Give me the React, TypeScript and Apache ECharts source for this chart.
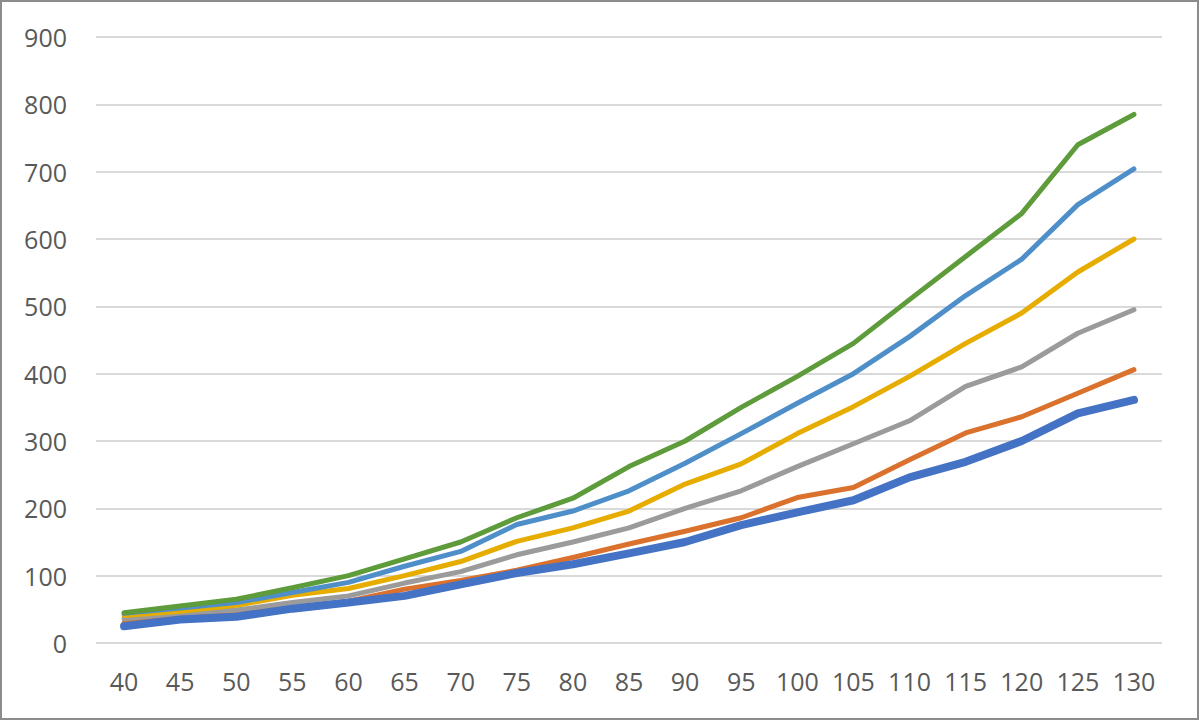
import React, { useEffect, useRef } from "react";
import * as echarts from "echarts";

const categories = ["40","45","50","55","60","65","70","75","80","85","90","95","100","105","110","115","120","125","130"];
const blueSeries = [25,35,39,51,60,70,87,104,117,133,150,175,194,212,246,269,300,341,361];
const orangeSeries = [30,38,43,53,62,80,93,108,127,147,166,186,216,231,272,312,336,371,406];
const graySeries = [36,44,49,60,70,89,106,131,150,171,200,226,262,296,330,381,410,460,495];
const yellowSeries = [41,47,56,71,81,100,121,151,171,196,236,266,311,351,396,445,490,551,600];
const lightBlueSeries = [44,52,60,75,90,114,136,176,196,226,267,311,356,400,455,516,570,651,704];
const greenSeries = [45,55,65,82,100,125,150,186,215,262,300,350,396,445,510,574,638,740,785];

const seriesDefs = [
  { name: "S2", data: orangeSeries, color: "#DA722E", width: 5, z: 2 },
  { name: "S3", data: graySeries, color: "#9B9B9B", width: 5, z: 3 },
  { name: "S4", data: yellowSeries, color: "#E6AD00", width: 5, z: 4 },
  { name: "S5", data: lightBlueSeries, color: "#4F8FC9", width: 5, z: 5 },
  { name: "S6", data: greenSeries, color: "#5E9B3B", width: 5, z: 6 },
  { name: "S1", data: blueSeries, color: "#4472C4", width: 8, z: 7 },
];

export default function App() {
  const ref = useRef<HTMLDivElement>(null);
  useEffect(() => {
    document.body.style.margin = "0";
    const chart = echarts.init(ref.current!, null, { renderer: "svg" });
    chart.setOption({
      animation: false,
      backgroundColor: "#ffffff",
      grid: { left: 96, right: 38, top: 37, bottom: 78 },
      xAxis: {
        type: "category",
        data: categories,
        boundaryGap: true,
        axisLine: { show: false },
        axisTick: { show: false },
        axisLabel: {
          color: "#595959",
          fontFamily: "Open Sans",
          fontSize: 25,
          margin: 25,
          interval: 0,
        },
        splitLine: { show: false },
      },
      yAxis: {
        type: "value",
        min: 0,
        max: 900,
        interval: 100,
        axisLine: { show: false },
        axisTick: { show: false },
        axisLabel: {
          color: "#595959",
          fontFamily: "Open Sans",
          fontSize: 25,
          margin: 29,
        },
        splitLine: { lineStyle: { color: "#D9D9D9", width: 2 } },
      },
      graphic: [
        {
          type: "rect",
          shape: { x: 1, y: 1, width: 1197, height: 718 },
          style: { fill: "none", stroke: "#8C8C8C", lineWidth: 2 },
          silent: true,
        },
      ],
      series: seriesDefs.map((s) => ({
        name: s.name,
        type: "line",
        data: s.data,
        z: s.z,
        showSymbol: false,
        symbol: "none",
        lineStyle: { color: s.color, width: s.width, cap: "round", join: "round" },
        itemStyle: { color: s.color },
      })),
    });
    return () => chart.dispose();
  }, []);
  return (
    <div
      ref={ref}
      style={{ position: "absolute", left: 0, top: 0, width: 1200, height: 721 }}
    />
  );
}
